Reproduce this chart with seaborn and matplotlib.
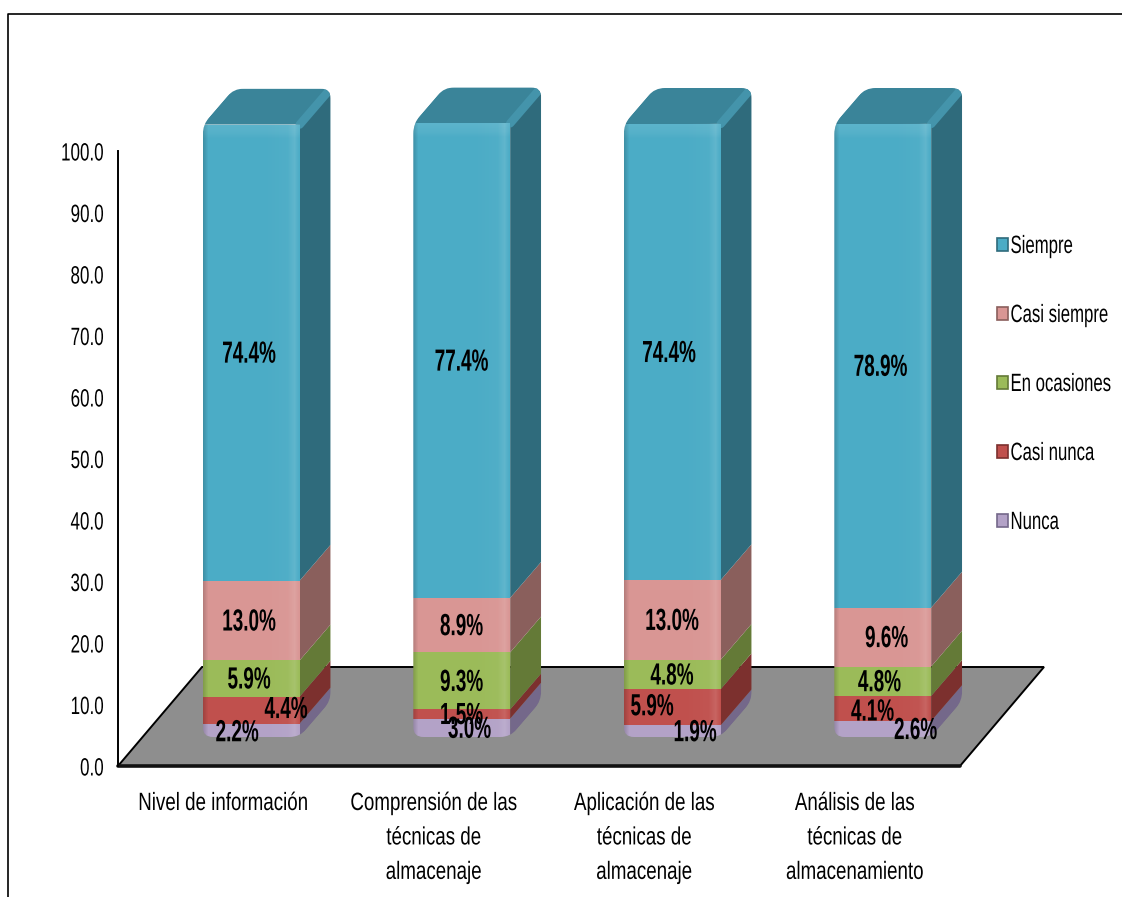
import numpy as np
import matplotlib
matplotlib.use('Agg')
import matplotlib.pyplot as plt
from matplotlib.lines import Line2D
from matplotlib.patches import Patch, Polygon
from matplotlib.path import Path
from matplotlib.patheffects import AbstractPathEffect
from matplotlib.transforms import Affine2D, IdentityTransform
import seaborn as sns

categories = ['Nivel de información', 'Comprensión de las\ntécnicas de\nalmacenaje',
              'Aplicación de las\ntécnicas de\nalmacenaje', 'Análisis de las\ntécnicas de\nalmacenamiento']
nunca = [2.2, 3.0, 1.9, 2.6]
casi_nunca = [4.4, 1.5, 5.9, 4.1]
en_ocasiones = [5.9, 9.3, 4.8, 4.8]
casi_siempre = [13.0, 8.9, 13.0, 9.6]
siempre = [74.4, 77.4, 74.4, 78.9]
y_ticks = [0, 10, 20, 30, 40, 50, 60, 70, 80, 90, 100]

# bottom to top
series = [('Nunca', nunca, '#b3a2c7', '#74688a'),
          ('Casi nunca', casi_nunca, '#c0504d', '#7c302e'),
          ('En ocasiones', en_ocasiones, '#9bbb59', '#647a37'),
          ('Casi siempre', casi_siempre, '#d99694', '#8a5f5c'),
          ('Siempre', siempre, '#4bacc6', '#2f6b7c')]

# labels the original chart moved off the centre of their segment, in pixels (col, series)
label_shift = {(0, 'Casi nunca'): (35, 2), (0, 'Nunca'): (-14, -1), (0, 'Siempre'): (-2, 0),
               (0, 'Casi siempre'): (-2, 0), (0, 'En ocasiones'): (-2, 0),
               (1, 'Nunca'): (8, 0), (2, 'Casi nunca'): (-20, 2), (2, 'Nunca'): (23, 0),
               (2, 'Siempre'): (-3, 0), (3, 'Nunca'): (33, 0), (3, 'Casi nunca'): (-10, -2),
               (3, 'Siempre'): (-2, 0), (3, 'Casi siempre'): (4, 0), (3, 'En ocasiones'): (-3, 0)}

W, H = 1122, 897
BAR_W = 0.46
DEPTH = np.array([31, 36])
FLOOR_DEPTH = np.array([84, 99])


class Squeeze(AbstractPathEffect):
    # the reference text is a horizontally squashed Arial, matplotlib has no font stretch
    def __init__(self, sx, anchor='center'):
        super().__init__()
        self.sx = sx
        self.anchor = anchor

    def draw_path(self, renderer, gc, tpath, affine, rgbFace=None):
        xs = tpath.vertices[:, 0]
        ref = {'left': xs.min(), 'right': xs.max(), 'center': (xs.min() + xs.max()) / 2}[self.anchor]
        squeeze = Affine2D().translate(-ref, 0).scale(self.sx, 1).translate(ref, 0)
        renderer.draw_path(gc, tpath, squeeze + affine, rgbFace)


def rounded_path(points, r):
    # closed path through display points with the corners cut by a curve
    verts, codes = [], []
    n = len(points)
    for i in range(n):
        prev, cur, nxt = points[i - 1], points[i], points[(i + 1) % n]
        a = cur + (prev - cur) / np.linalg.norm(prev - cur) * r
        b = cur + (nxt - cur) / np.linalg.norm(nxt - cur) * r
        verts += [a, cur, b]
        codes += [Path.MOVETO if i == 0 else Path.LINETO, Path.CURVE3, Path.CURVE3]
    verts.append(verts[0])
    codes.append(Path.CLOSEPOLY)
    return Path(verts, codes)


def clip_to(artist, path):
    artist.set_clip_box(None)
    artist.set_clip_path(path, IdentityTransform())


sns.set_theme(style='white')
plt.rcParams['font.family'] = ['Liberation Sans']

fig = plt.figure(figsize=(W / 100, H / 100), dpi=100)
ax = fig.add_axes([118 / W, (H - 766) / H, 842 / W, 615 / H])
ax_bars = fig.add_axes([146 / W, (H - 737) / H, 842 / W, 613 / H])
ax_bars.patch.set_visible(False)

# axis and floor
ax.set_xlim(-0.5, 3.5)
ax.set_ylim(0, 100)
ax.set_yticks(y_ticks)
ax.set_yticklabels(['%.1f' % t for t in y_ticks])
ax.set_xticks(range(len(categories)))
ax.set_xticklabels(categories, linespacing=1.55, va='top')
ax.tick_params(axis='y', length=0, pad=10, labelsize=18, labelcolor='black')
ax.tick_params(axis='x', length=0, pad=18, labelsize=18, labelcolor='black')
for label in ax.get_yticklabels():
    label.set_path_effects([Squeeze(0.68, 'right')])
for label in ax.get_xticklabels():
    label.set_path_effects([Squeeze(0.75)])
sns.despine(ax=ax, top=True, right=True, bottom=True)
ax.spines['left'].set_color('black')
ax.spines['left'].set_linewidth(1.4)

front = ax.transData.transform([(-0.5, 0), (3.5, 0)])
floor = np.vstack([front, front[::-1] + FLOOR_DEPTH])
ax.add_patch(Polygon(floor, closed=True, transform=IdentityTransform(), facecolor='#8e8e8e',
                     edgecolor='black', linewidth=1.4, clip_on=False, zorder=1))
ax.add_line(Line2D(front[:, 0], front[:, 1], transform=IdentityTransform(), color='#111111',
                   linewidth=2.6, clip_on=False, zorder=2))

# stacked bars, side faces come from the same values
stack_bottom = np.zeros(len(categories))
faces = []
for name, values, color, side in series:
    sns.barplot(x=categories, y=values, bottom=stack_bottom, color=color, saturation=1,
                width=BAR_W, linewidth=0, ax=ax_bars, zorder=3)
    faces.append((name, np.array(values), stack_bottom.copy(), side))
    stack_bottom = stack_bottom + np.array(values)

ax_bars.set_xlim(-0.5, 3.5)
ax_bars.set_ylim(0, 100)
ax_bars.axis('off')

# pixel helpers only after limits are final
clip_paths = []
for i, total in enumerate(stack_bottom):
    bl, br, tr, tl = ax_bars.transData.transform([(i - BAR_W / 2, 0), (i + BAR_W / 2, 0),
                                                  (i + BAR_W / 2, total), (i - BAR_W / 2, total)])
    outline = [bl, br, br + DEPTH, tr + DEPTH, tl + DEPTH, tl]
    clip = rounded_path(outline, 10)
    clip_paths.append(clip)

    # top face and its soft ridge
    top = Polygon([tl, tr, tr + DEPTH, tl + DEPTH], closed=True, transform=IdentityTransform(),
                  facecolor='#3a8499', edgecolor='none', zorder=2)
    ax_bars.add_patch(top)
    clip_to(top, clip)
    ridge = Line2D([tr[0], tr[0] + DEPTH[0]], [tr[1], tr[1] + DEPTH[1]], transform=IdentityTransform(),
                   color='#4494ab', linewidth=6, zorder=2.5)
    ax_bars.add_line(ridge)
    clip_to(ridge, clip)

    for name, values, bottoms, side in faces:
        lo, hi = ax_bars.transData.transform([(i + BAR_W / 2, bottoms[i]),
                                              (i + BAR_W / 2, bottoms[i] + values[i])])
        face = Polygon([lo, hi, hi + DEPTH, lo + DEPTH], closed=True, transform=IdentityTransform(),
                       facecolor=side, edgecolor='none', zorder=2)
        ax_bars.add_patch(face)
        clip_to(face, clip)

    # bevel shading over the front of the column
    xs = np.linspace(0, 1, 100)
    shade = np.zeros((1, 100, 4))
    shade[..., :3] = 1
    shade[..., 3] = np.interp(xs, [0, 0.6, 0.88, 0.95, 1], [0.0, 0.0, 0.03, 0.12, 0.0])
    img = ax_bars.imshow(shade, extent=(i - BAR_W / 2, i + BAR_W / 2, 0, total), aspect='auto', zorder=4)
    clip_to(img, clip)

    edge = np.zeros((1, 100, 4))
    edge[..., 3] = np.interp(xs, [0, 0.05, 1], [0.16, 0.0, 0.0])
    img = ax_bars.imshow(edge, extent=(i - BAR_W / 2, i + BAR_W / 2, 0, total), aspect='auto', zorder=4)
    clip_to(img, clip)

    # lighter strip along the top edge of the front
    strip = np.zeros((100, 1, 4))
    strip[..., :3] = 1
    strip[..., 3] = np.interp(np.linspace(0, 1, 100), [0, 0.6, 1], [0.1, 0.06, 0.0])[:, None]
    img = ax_bars.imshow(strip, extent=(i - BAR_W / 2, i + BAR_W / 2, total - 2.4, total), aspect='auto', zorder=4)
    clip_to(img, clip)

ax_bars.set_xlim(-0.5, 3.5)
ax_bars.set_ylim(0, 100)

for container in ax_bars.containers:
    for i, rect in enumerate(container):
        clip_to(rect, clip_paths[i])

# data labels
for name, values, bottoms, side in faces:
    for i, v in enumerate(values):
        dx, dy = label_shift.get((i, name), (0, 0))
        label = ax_bars.annotate('%.1f%%' % v, xy=(i, bottoms[i] + v / 2), xytext=(dx * 0.72, (dy - 2) * 0.72),
                                 textcoords='offset points', ha='center', va='center', fontsize=22,
                                 fontweight='bold', color='black', zorder=6, annotation_clip=False)
        label.set_path_effects([Squeeze(0.62)])

# legend
handles = [Patch(facecolor=color, edgecolor=side, linewidth=1.2, label=name)
           for name, values, color, side in series[::-1]]
legend = fig.legend(handles=handles, loc='center left', bbox_to_anchor=(997 / W, 1 - 384 / H), frameon=False,
                    fontsize=18, labelspacing=1.8, handlelength=0.42, handleheight=0.42, handletextpad=0.12,
                    borderpad=0, borderaxespad=0, labelcolor='black')
for text in legend.get_texts():
    text.set_path_effects([Squeeze(0.67, 'left')])

# frame around the picture
fig.add_artist(Line2D([8 / W, 8 / W, 1], [0, 1 - 14 / H, 1 - 14 / H], color='black', linewidth=1.2))

fig.savefig('out.png', dpi=100)
